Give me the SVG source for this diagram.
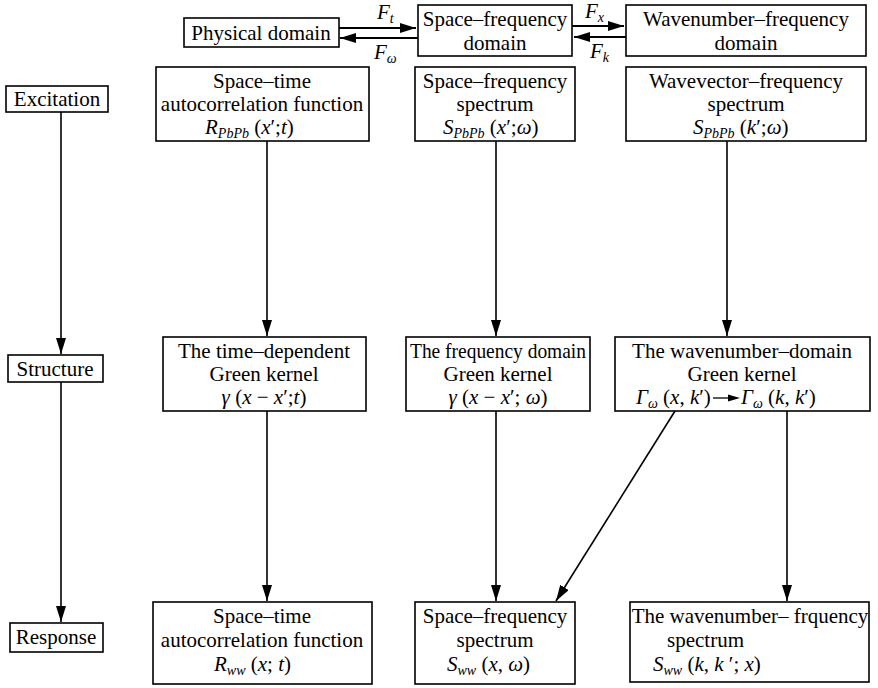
<svg xmlns="http://www.w3.org/2000/svg" width="878" height="688" viewBox="0 0 878 688" font-family="'Liberation Serif','Times New Roman',serif">
<style>
.box{fill:#fff;stroke:#000;stroke-width:1.6}
text{font-family:"Liberation Serif","Times New Roman",serif;font-size:21px;fill:#000}
.c{text-anchor:middle}
.i{font-style:italic}
.sub{font-size:14px;font-style:italic}
.ln{stroke:#000;stroke-width:1.6;fill:none}
.lt{stroke:#000;stroke-width:2;fill:none}
</style>
<defs>
<marker id="ah" markerUnits="userSpaceOnUse" markerWidth="18" markerHeight="12" refX="16" refY="5" orient="auto">
<path d="M0,0 L16,5 L0,10 Z" fill="#000"/>
</marker>
</defs>
<rect width="878" height="688" fill="#fff"/>

<g id="connectors">
<line class="lt" x1="339" y1="28" x2="416" y2="28" marker-end="url(#ah)"/>
<line class="lt" x1="418" y1="38" x2="340" y2="38" marker-end="url(#ah)"/>
<line class="lt" x1="572" y1="26" x2="624" y2="26" marker-end="url(#ah)"/>
<line class="lt" x1="626" y1="37" x2="574" y2="37" marker-end="url(#ah)"/>
<text class="i" x="377" y="19">F<tspan class="sub" dy="4">t</tspan></text>
<text class="i" x="374" y="59">F<tspan class="sub" dy="4">ω</tspan></text>
<text class="i" x="585" y="18">F<tspan class="sub" dy="4">x</tspan></text>
<text class="i" x="590" y="58">F<tspan class="sub" dy="4">k</tspan></text>
<line class="ln" x1="61" y1="112" x2="61" y2="354" marker-end="url(#ah)"/>
<line class="ln" x1="61" y1="382" x2="61" y2="622" marker-end="url(#ah)"/>
<line class="ln" x1="267" y1="141" x2="267" y2="336" marker-end="url(#ah)"/>
<line class="ln" x1="267" y1="411" x2="267" y2="601" marker-end="url(#ah)"/>
<line class="ln" x1="496" y1="141" x2="496" y2="336" marker-end="url(#ah)"/>
<line class="ln" x1="496" y1="411" x2="496" y2="601" marker-end="url(#ah)"/>
<line class="ln" x1="727" y1="141" x2="727" y2="336" marker-end="url(#ah)"/>
<line class="ln" x1="787" y1="411" x2="787" y2="601" marker-end="url(#ah)"/>
<line class="ln" x1="675" y1="411" x2="556" y2="601" marker-end="url(#ah)"/>
</g>

<g id="physical">
<rect class="box" x="184" y="18" width="155" height="29"/>
<text class="c" x="261" y="40">Physical domain</text>
</g>
<g id="spacefreq-domain">
<rect class="box" x="418" y="5" width="154" height="51"/>
<text class="c" x="495" y="26">Space–frequency</text>
<text class="c" x="495" y="50">domain</text>
</g>
<g id="wavenumber-domain">
<rect class="box" x="626" y="5" width="240" height="51"/>
<text class="c" x="746" y="26">Wavenumber–frequency</text>
<text class="c" x="746" y="50">domain</text>
</g>

<g id="excitation">
<rect class="box" x="6" y="86" width="102" height="26"/>
<text class="c" x="57" y="106">Excitation</text>
</g>
<g id="structure">
<rect class="box" x="8" y="355" width="95" height="27"/>
<text class="c" x="55" y="376">Structure</text>
</g>
<g id="response">
<rect class="box" x="10" y="623" width="93" height="29"/>
<text class="c" x="56" y="644">Response</text>
</g>

<g id="st-autocorr-exc">
<rect class="box" x="156" y="67" width="213" height="74"/>
<text class="c" x="262" y="88">Space–time</text>
<text class="c" x="262" y="111">autocorrelation function</text>
<text x="205" y="134"><tspan class="i">R</tspan><tspan class="sub" dy="4">PbPb</tspan><tspan dy="-4"> (</tspan><tspan class="i">x</tspan>′;<tspan class="i">t</tspan>)</text>
</g>
<g id="sf-spectrum-exc">
<rect class="box" x="415" y="67" width="160" height="74"/>
<text class="c" x="495" y="88">Space–frequency</text>
<text class="c" x="495" y="111">spectrum</text>
<text x="443" y="134"><tspan class="i">S</tspan><tspan class="sub" dy="4">PbPb</tspan><tspan dy="-4"> (</tspan><tspan class="i">x</tspan>′;<tspan class="i">ω</tspan>)</text>
</g>
<g id="wf-spectrum-exc">
<rect class="box" x="626" y="67" width="240" height="74"/>
<text class="c" x="746" y="88">Wavevector–frequency</text>
<text class="c" x="746" y="111">spectrum</text>
<text x="693" y="134"><tspan class="i">S</tspan><tspan class="sub" dy="4">PbPb</tspan><tspan dy="-4"> (</tspan><tspan class="i">k</tspan>′;<tspan class="i">ω</tspan>)</text>
</g>

<g id="time-green">
<rect class="box" x="163" y="337" width="203" height="74"/>
<text class="c" x="264" y="358">The time–dependent</text>
<text class="c" x="264" y="381">Green kernel</text>
<text class="c" x="264" y="404"><tspan class="i">γ</tspan> (<tspan class="i">x</tspan> − <tspan class="i">x</tspan>′;<tspan class="i">t</tspan>)</text>
</g>
<g id="freq-green">
<rect class="box" x="406" y="337" width="184" height="74"/>
<text class="c" x="498" y="358" textLength="176" lengthAdjust="spacingAndGlyphs">The frequency domain</text>
<text class="c" x="498" y="381">Green kernel</text>
<text class="c" x="498" y="404"><tspan class="i">γ</tspan> (<tspan class="i">x</tspan> − <tspan class="i">x</tspan>′; <tspan class="i">ω</tspan>)</text>
</g>
<g id="wn-green">
<rect class="box" x="615" y="337" width="255" height="74"/>
<text class="c" x="742" y="358">The wavenumber–domain</text>
<text class="c" x="742" y="381">Green kernel</text>
<text x="636" y="404"><tspan class="i">Γ</tspan><tspan class="sub" dy="4">ω</tspan><tspan dy="-4"> (</tspan><tspan class="i">x</tspan>, <tspan class="i">k</tspan>′)</text>
<line x1="713" y1="398" x2="732" y2="398" stroke="#000" stroke-width="1.3"/>
<path d="M728,394.5 L740,398 L728,401.5 Z" fill="#000"/>
<text x="741" y="404"><tspan class="i">Γ</tspan><tspan class="sub" dy="4">ω</tspan><tspan dy="-4"> (</tspan><tspan class="i">k</tspan>, <tspan class="i">k</tspan>′)</text>
</g>

<g id="st-autocorr-resp">
<rect class="box" x="153" y="602" width="219" height="82"/>
<text class="c" x="262" y="623">Space–time</text>
<text class="c" x="262" y="647">autocorrelation function</text>
<text x="214" y="671"><tspan class="i">R</tspan><tspan class="sub" dy="4">ww</tspan><tspan dy="-4"> (</tspan><tspan class="i">x</tspan>; <tspan class="i">t</tspan>)</text>
</g>
<g id="sf-spectrum-resp">
<rect class="box" x="415" y="602" width="160" height="82"/>
<text class="c" x="495" y="623">Space–frequency</text>
<text class="c" x="495" y="647">spectrum</text>
<text x="447" y="671"><tspan class="i">S</tspan><tspan class="sub" dy="4">ww</tspan><tspan dy="-4"> (</tspan><tspan class="i">x</tspan>, <tspan class="i">ω</tspan>)</text>
</g>
<g id="wn-spectrum-resp">
<rect class="box" x="630" y="602" width="239" height="80"/>
<text class="c" x="750" y="623">The wavenumber– frquency</text>
<text x="667" y="647">spectrum</text>
<text x="653" y="671"><tspan class="i">S</tspan><tspan class="sub" dy="4">ww</tspan><tspan dy="-4"> (</tspan><tspan class="i">k</tspan>, <tspan class="i">k</tspan> ′; <tspan class="i">x</tspan>)</text>
</g>
</svg>
